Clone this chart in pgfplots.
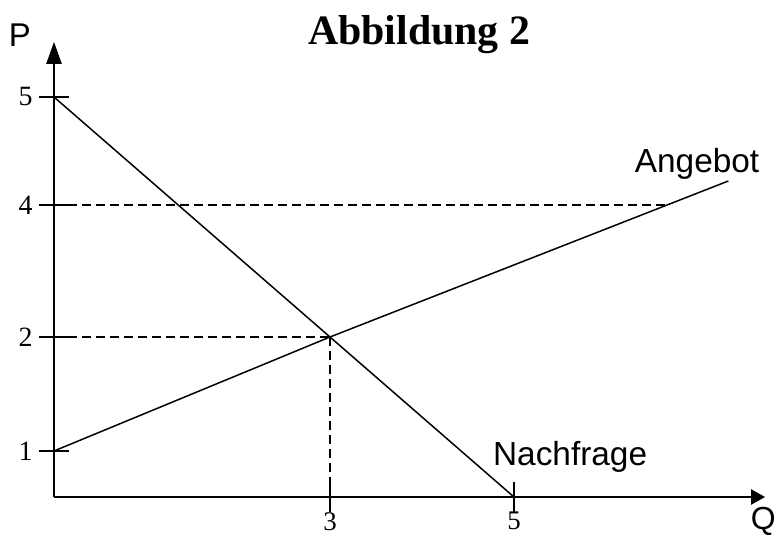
\documentclass[border=0pt]{standalone}
\usepackage{fontspec}
\setmainfont{Liberation Serif}
\setsansfont{Liberation Sans}
\usepackage{pgfplots}
\pgfplotsset{compat=1.18}
\usetikzlibrary{arrows.meta}
\newcommand\tl[1]{\textrm{\fontsize{28}{28}\selectfont #1}}
\newcommand\tlx[1]{\textrm{\fontsize{27}{27}\selectfont #1}}

\begin{document}
\begin{tikzpicture}
\begin{axis}[
    at={(54bp,43bp)}, anchor=south west,
    x=92bp, y=80bp,
    xmin=0, xmax=7.73, ymin=0, ymax=5.69,
    axis lines=left,
    x axis line style={line width=2.2bp, -{Triangle[length=14bp,width=15bp]}},
    y axis line style={line width=2.2bp, -{Triangle[length=22bp,width=15bp]}},
    xtick={3,5}, xticklabels={\tlx{3},\tlx{5}},
    ytick={0.575,2,3.65,5}, yticklabels={\tl{1},\tl{2},\tl{4},\tl{5}},
    tick align=center,
    major tick length=30bp,
    tick style={line width=2bp, black},
    xticklabel style={inner sep=1bp, yshift=1bp},
    yticklabel style={xshift=-3bp},
    clip=false,
]
% Nachfrage
\addplot[black, line width=1.5bp] coordinates {(0,5) (5,0)};
% Angebot
\addplot[black, line width=1.5bp] coordinates {(0,0.575) (3,2) (7.33,3.95)};
% Hilfslinien
\addplot[black, line width=1.3bp, dash pattern=on 9bp off 5bp] coordinates {(0,3.65) (6.65,3.65)};
\addplot[black, line width=1.3bp, dash pattern=on 9bp off 5bp] coordinates {(0,2) (3,2)};
\addplot[black, line width=1.3bp, dash pattern=on 9bp off 5bp] coordinates {(3,2) (3,0)};

\node[anchor=base, font=\bfseries\fontsize{42}{42}\selectfont] at (axis cs:3.97,5.65) {Abbildung 2};
\node[anchor=base, font=\sffamily\fontsize{33}{33}\selectfont] at (axis cs:-0.37,5.625) {P};
\node[anchor=base, font=\sffamily\fontsize{32}{32}\selectfont] at (axis cs:7.71,-0.41) {Q};
\node[anchor=base, font=\sffamily\fontsize{33.5}{33.5}\selectfont] at (axis cs:6.99,4.06) {Angebot};
\node[anchor=base, font=\sffamily\fontsize{33.5}{33.5}\selectfont] at (axis cs:5.61,0.4) {Nachfrage};
\end{axis}
\pgfresetboundingbox
\path[use as bounding box] (0,0) rectangle (776bp,540bp);
\end{tikzpicture}
\end{document}
